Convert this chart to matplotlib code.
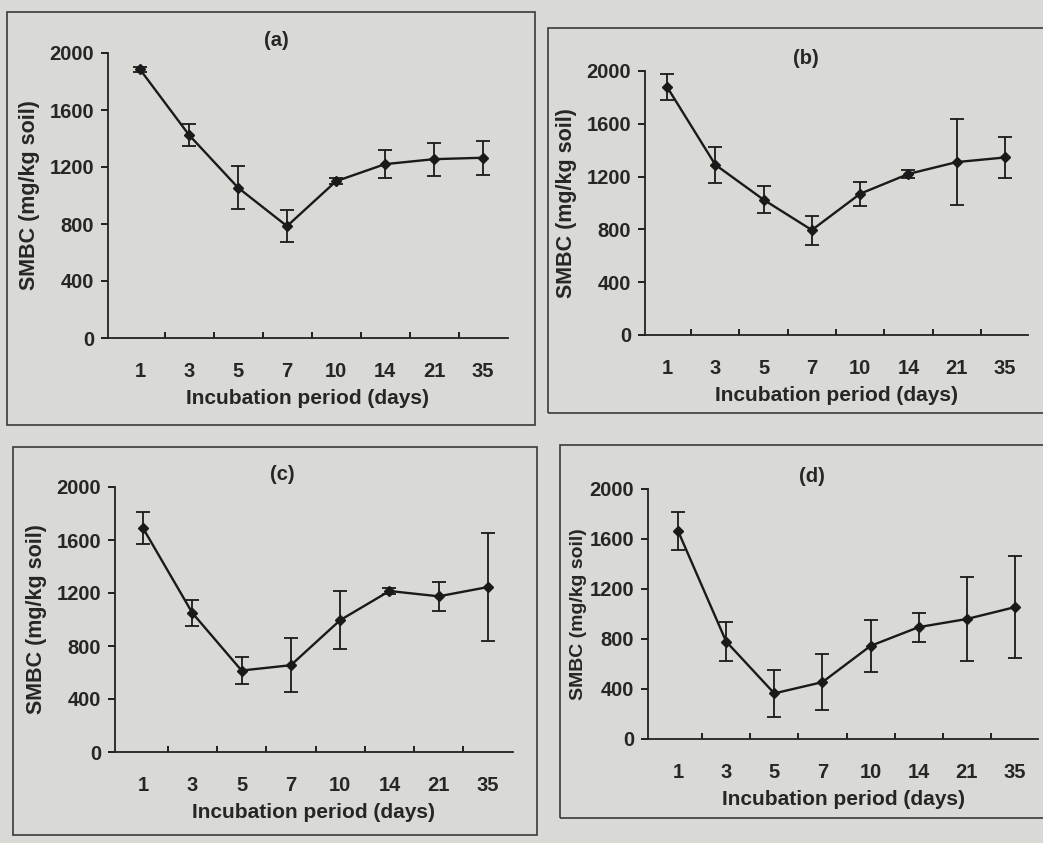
import matplotlib
matplotlib.use("Agg")
import matplotlib.pyplot as plt
from matplotlib.patches import Rectangle
import numpy as np

days = ["1", "3", "5", "7", "10", "14", "21", "35"]
yticks = [0, 400, 800, 1200, 1600, 2000]

smbc_a = [1885, 1425, 1055, 785, 1100, 1220, 1255, 1265]
err_a = [20, 75, 150, 110, 20, 100, 115, 120]
smbc_b = [1880, 1290, 1025, 795, 1070, 1220, 1310, 1345]
err_b = [100, 135, 100, 110, 90, 30, 325, 155]
smbc_c = [1690, 1050, 615, 655, 995, 1215, 1175, 1245]
err_c = [120, 100, 100, 205, 220, 25, 110, 410]
smbc_d = [1665, 780, 365, 455, 745, 895, 960, 1055]
err_d = [150, 155, 190, 225, 205, 115, 335, 410]

labels = ["(a)", "(b)", "(c)", "(d)"]
series = [(smbc_a, err_a), (smbc_b, err_b), (smbc_c, err_c), (smbc_d, err_d)]

W, H = 1043, 843
BG = "#d9d9d6"
TXT = "#262626"
plt.rcParams['font.family'] = ['Liberation Sans', 'DejaVu Sans']

fig = plt.figure(figsize=(W / 100, H / 100), dpi=100, facecolor=BG)

# panel frames (pixel boxes: left, top, right, bottom)
frames = [(7, 12, 535, 425), (548, 28, 1045, 413), (13, 447, 537, 835), (560, 445, 1045, 818)]
for l, t, r, b in frames:
    fig.patches.append(Rectangle((l / W, 1 - b / H), (r - l) / W, (b - t) / H,
                                 transform=fig.transFigure, fill=False,
                                 edgecolor="#3a3a3a", linewidth=1.2))

# axes boxes in pixels: left, top(2000), right, bottom(0)
boxes = [(108, 53, 508, 338), (645, 71, 1028, 335), (115, 487, 513, 752), (648, 489, 1038, 739)]
first_x = [140, 667, 143, 678]
last_x = [483, 1005, 488, 1015]
ylab_size = [15.5, 15.5, 15.5, 14]
ylab_pad = [7, 7, 7, 2]

for i, (ax_box, (vals, errs)) in enumerate(zip(boxes, series)):
    l, t, r, b = ax_box
    ax = fig.add_axes([l / W, 1 - b / H, (r - l) / W, (b - t) / H])
    ax.set_facecolor(BG)
    x = np.arange(len(days))
    sp = (last_x[i] - first_x[i]) / 7.0
    x0 = -(first_x[i] - l) / sp
    x1 = 7 + (r - last_x[i]) / sp
    ax.errorbar(x, vals, yerr=errs, color="#1a1a1a", linewidth=1.7,
                marker="D", markersize=5.5, capsize=5, elinewidth=1.3,
                capthick=1.3, ecolor="#1a1a1a")
    ax.set_xlim(x0, x1)
    ax.set_ylim(0, 2000)
    ax.set_yticks(yticks)
    ax.set_yticklabels([str(v) for v in yticks], fontsize=14.5, fontweight="bold", color=TXT)
    ax.set_xticks(x)
    ax.set_xticklabels(days, fontsize=14.5, fontweight="bold", color=TXT)
    ax.set_xticks(np.arange(0.5, 7.5, 1.0), minor=True)
    ax.tick_params(axis="x", which="major", length=0, pad=17)
    ax.tick_params(axis="x", which="minor", length=4, direction="in", width=1.2)
    ax.tick_params(axis="y", length=5, width=1.2, direction="out", pad=5)
    for s in ["top", "right"]:
        ax.spines[s].set_visible(False)
    for s in ["left", "bottom"]:
        ax.spines[s].set_linewidth(1.3)
        ax.spines[s].set_color("#222222")
    ax.set_ylabel("SMBC (mg/kg soil)", fontsize=ylab_size[i], fontweight="bold", color=TXT,
                  labelpad=ylab_pad[i])
    ax.set_xlabel("Incubation period (days)", fontsize=15, fontweight="bold", color=TXT, labelpad=6)
    ax.text(0.42, 1.01, labels[i], transform=ax.transAxes, ha="center", va="bottom",
            fontsize=14.5, fontweight="bold", color=TXT)

fig.savefig("out.png", dpi=100, facecolor=BG)
